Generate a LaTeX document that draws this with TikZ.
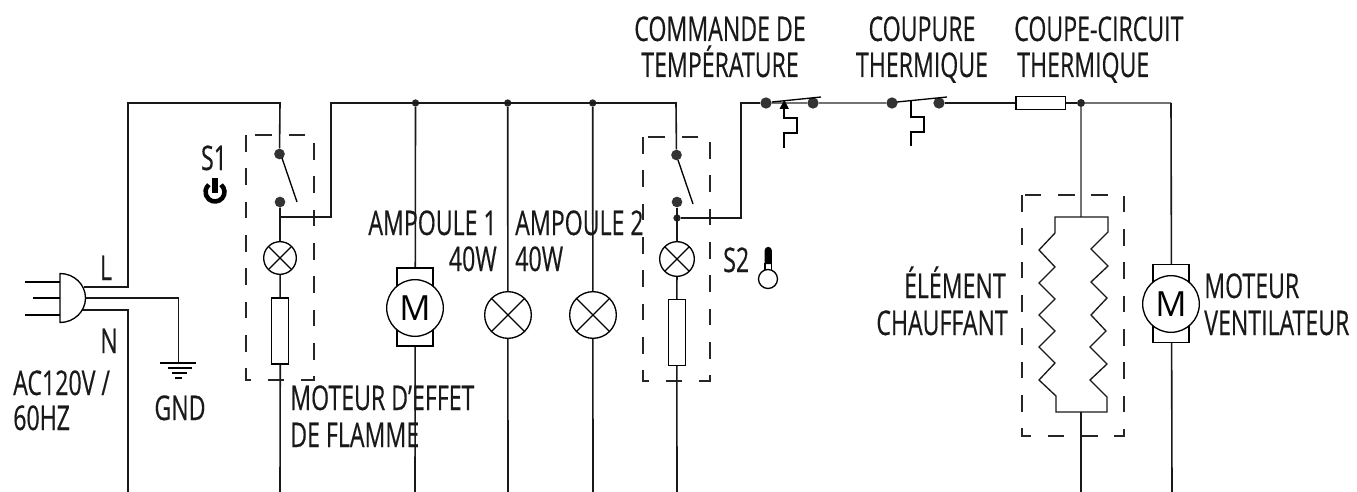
\documentclass[tikz,border=0pt]{standalone}
\usepackage{fontspec}
\setmainfont[FakeStretch=0.68,FakeBold=0.35]{Open Sans}
\newfontfamily\motorfont{Open Sans}
\usetikzlibrary{arrows.meta}
\tikzset{
  wire/.style={line width=1.2pt,black!90},
  thinwire/.style={line width=0.8pt,black!55},
  dashbox/.style={line width=1pt,black!85,dash pattern=on 12.5pt off 12.5pt},
  joint/.style={circle,fill=black!80,inner sep=0pt,minimum size=8pt},
  smalljoint/.style={circle,fill=black!85,inner sep=0pt,minimum size=5.5pt},
  lamp/.style={circle,draw,line width=1pt,fill=white,inner sep=0pt,
    path picture={\draw[line width=1pt] (path picture bounding box.north west)--(path picture bounding box.south east)
      (path picture bounding box.north east)--(path picture bounding box.south west);}},
  smalllamp/.style={lamp,minimum size=24.5pt},
  biglamp/.style={lamp,minimum size=35pt},
  resistor/.style={rectangle,draw,line width=1pt,fill=white,inner sep=0pt,minimum width=12.75pt,minimum height=49.5pt},
  fuse/.style={rectangle,draw,line width=1pt,inner sep=0pt,minimum width=37pt,minimum height=10pt},
  motorcan/.style={rectangle,draw,line width=1pt,fill=white,inner sep=0pt,minimum width=27pt,minimum height=58.5pt},
  motorball/.style={circle,draw,line width=1pt,fill=white,inner sep=0pt,minimum size=42.5pt,font=\motorfont\fontsize{26}{26}\selectfont},
  lbl/.style={inner sep=0pt,font=\fontsize{25.5}{25.5}\selectfont,black!90},
}
\begin{document}
\begin{tikzpicture}[x=0.75pt,y=-0.75pt]
\path[use as bounding box,fill=white] (0,0) rectangle (1357,492);

% coordinates
\coordinate (bl) at (128,103);
\coordinate (br) at (331,103);
\coordinate (tr2) at (676,103);
\coordinate (s2up) at (741,103);
\coordinate (s2out) at (741,218);
\coordinate (lplug) at (84,287);
\coordinate (lcorner) at (128,287);
\coordinate (gplug) at (85.5,298);
\coordinate (gcorner) at (178.5,298);
\coordinate (gndtop) at (178.5,363);
\coordinate (nplug) at (82,310);
\coordinate (ncorner) at (128,310);
\coordinate (nend) at (128,492);
\coordinate (s1top) at (280,103);
\coordinate (s1tap) at (280,217);
\coordinate (s1tapr) at (331,217);
\coordinate (s1end) at (280,492);
\coordinate (m1end) at (415,492);
\coordinate (l1end) at (508,492);
\coordinate (l2end) at (593,492);
\coordinate (s2end) at (677,492);
\coordinate (hcend) at (1081,492);
\coordinate (hetop) at (1081,217);
\coordinate (hebot) at (1081,412);
\coordinate (rcorner) at (1171,103);
\coordinate (m2end) at (1172,492);

% dashed boxes
\draw[dashbox] (246,135)--(246,380)--(314,380)--(314,135)--cycle;
\draw[dashbox] (643,137)--(643,381)--(710,381)--(710,137)--cycle;
\draw[dashbox] (1022,195)--(1022,436)--(1124,436)--(1124,195)--cycle;

% components
\node[joint] (s1a) at (279.5,154) {};
\node[joint] (s1b) at (280,202) {};
\node[smalllamp] (s1lamp) at (280,258) {};
\node[resistor] (s1res) at (280.3,331) {};
\node[smalljoint] (j1) at (415.5,103) {};
\node[smalljoint] (j2) at (507.7,103) {};
\node[smalljoint] (j3) at (592.7,103) {};
\node[joint] (s2a) at (676.5,155) {};
\node[joint] (s2b) at (677,202) {};
\node[smalljoint] (s2c) at (677,218) {};
\node[smalllamp,minimum size=26pt] (s2lamp) at (677,259) {};
\node[resistor] (s2res) at (676.8,332.5) {};
\node[joint,minimum size=8.5pt] (ta) at (766,103) {};
\node[joint,minimum size=8.5pt] (tb) at (813,103) {};
\node[joint,minimum size=8.5pt] (ca) at (892,103) {};
\node[joint,minimum size=8.5pt] (cb) at (939,103) {};
\node[fuse] (fu) at (1040.5,103) {};
\node[smalljoint,minimum size=6pt] (j4) at (1081,103) {};

% wires
\draw[wire] (lplug)--(lcorner)--(bl)--(s1top)--(s1a);
\draw[wire] (s1b)--(s1lamp);
\draw[wire] (s1lamp)--(s1res);
\draw[wire] (s1res)--(s1end);
\draw[wire] (s1b)--(s1tap)--(s1tapr)--(br)--(tr2)--(s2a);
\draw[wire] (gplug)--(gcorner)--(gndtop);
\draw[wire] (nplug)--(ncorner)--(nend);
\draw[wire] (j1)--(m1end);
\draw[wire] (j2)--(l1end);
\draw[wire] (j3)--(l2end);
\draw[wire] (s2b)--(s2lamp);
\draw[wire] (s2lamp)--(s2res);
\draw[wire] (s2res)--(s2end);
\draw[line width=.9pt,black!90] (s2c)--(s2out)--(s2up)--(ta);
\draw[thinwire] (ta)--(tb)--(ca);
\draw[wire] (cb)--(fu)--(j4);
\draw[thinwire] (j4)--(rcorner);
\draw[wire] (rcorner)--(m2end);
\draw[thinwire] (j4)--(hetop);
\draw[wire] (hebot)--(hcend);

% switches
\draw[line width=1pt] (282,158)--(297,202);
\draw[line width=1pt] (678,160)--(693,204);
\draw[line width=1pt] (772,102)--(821,97);
\draw[line width=1pt] (897,102)--(947,97);
\fill (779.5,109)--(789,109)--(784.25,100)--cycle;
\draw[line width=1pt] (784,109)--(784,118)--(797,118)--(797,133)--(784,133)--(784,148);
\draw[line width=1pt] (911,101)--(911,117)--(924,117)--(924,132)--(911,132)--(911,146);

% plug
\draw[line width=1pt] (25,282)--(60,282) (33,298)--(60,298) (25,315)--(60,315);
\draw[line width=1pt,fill=white] (60,273.5) arc[start angle=-90,end angle=90,x radius=25.5,y radius=24.5]--cycle;
% ground
\draw[line width=1pt] (160,363)--(196,363) (168,368)--(192,368);
\draw[line width=1pt] (172,373)--(187,373) (175,378)--(182,378);

% motors
\node[motorcan] (m1c) at (415,307) {};
\node[motorball] (m1) at (415,308) {M};
\node[biglamp] (l1) at (508,315) {};
\node[biglamp] (l2) at (593,315) {};
\node[motorcan] (m2c) at (1171,303.5) {};
\node[motorball] (m2) at (1171,304) {M};

% heater
\draw[line width=1pt,black!90] (hetop)--(1055,217)--(1055,233)--(1039,250)--(1055,267)--(1039,283)--(1055,299)--(1039,315)--(1055,331)--(1039,347)--(1055,363)--(1039,380)--(1056,396)--(1056,412)--(hebot);
\draw[line width=1pt,black!90] (hetop)--(1108,217)--(1108,232)--(1091,249)--(1108,266)--(1091,282)--(1107,298)--(1091,315)--(1106,331)--(1090,347)--(1107,364)--(1090,380)--(1107,397)--(1107,412)--(hebot);

% power icon
\draw[line width=3.4pt,black] (221.1,184.7) arc[start angle=-50,end angle=230,radius=9.5];
\draw[line width=4.4pt,black] (215,178)--(215,193);

% thermometer
\draw[line width=1pt] (768,279) circle[radius=9.5];
\draw[line width=1pt,line join=round] (765,270)--(765,263) (771.5,263)--(771.5,270);
\fill[black] (764.6,264)--(764.6,250.5) arc[start angle=180,end angle=360,radius=3.65]--(771.9,264)--cycle;

% labels
\node[lbl,anchor=base] (tL) at (106,280) {L};
\node[lbl,anchor=base] (tN) at (109,353) {N};
\node[lbl,anchor=base west] (tac) at (13,395) {AC120V /};
\node[lbl,anchor=base west] (thz) at (13,430) {60HZ};
\node[lbl,anchor=base] (tg) at (180,420) {GND};
\node[lbl,anchor=base] (ts1) at (214,170) {S1};
\node[lbl,anchor=base west] (tmo) at (290,410) {MOTEUR D’EFFET};
\node[lbl,anchor=base west] (tfl) at (290,447) {DE FLAMME};
\node[lbl,anchor=base east] (ta1) at (497,235) {AMPOULE 1};
\node[lbl,anchor=base east] (tw1) at (497,271) {40W};
\node[lbl,anchor=base west] (ta2) at (515,235) {AMPOULE 2};
\node[lbl,anchor=base west] (tw2) at (515,271) {40W};
\node[lbl,anchor=base west] (ts2) at (723,272) {S2};
\node[lbl,anchor=base] (tc1) at (720,41) {COMMANDE DE};
\node[lbl,anchor=base] (tc2) at (720,77) {TEMPÉRATURE};
\node[lbl,anchor=base] (tp1) at (922,41) {COUPURE};
\node[lbl,anchor=base] (tp2) at (922,77) {THERMIQUE};
\node[lbl,anchor=base west] (tq1) at (1014,41) {COUPE-CIRCUIT};
\node[lbl,anchor=base west] (tq2) at (1017,77) {THERMIQUE};
\node[lbl,anchor=base east] (te1) at (1006,298) {ÉLÉMENT};
\node[lbl,anchor=base east] (te2) at (1008,335) {CHAUFFANT};
\node[lbl,anchor=base west] (tv1) at (1204,298) {MOTEUR};
\node[lbl,anchor=base west] (tv2) at (1204,335) {VENTILATEUR};
\end{tikzpicture}
\end{document}
